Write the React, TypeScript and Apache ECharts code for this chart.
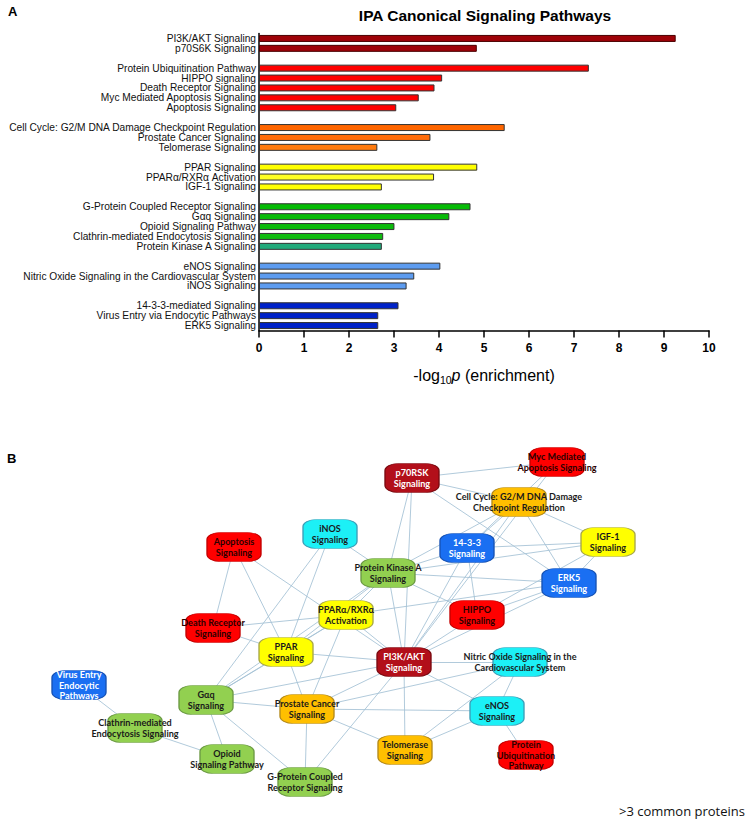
import React, { useEffect, useRef } from 'react';
import * as echarts from 'echarts';

// ---------- Panel A data ----------
const catDarkRed = ['PI3K/AKT Signaling', 'p70S6K Signaling'];
const valDarkRed = [9.26, 4.84];
const catRed = ['Protein Ubiquitination Pathway', 'HIPPO signaling', 'Death Receptor Signaling', 'Myc Mediated Apoptosis Signaling', 'Apoptosis Signaling'];
const valRed = [7.33, 4.07, 3.9, 3.55, 3.05];
const catOrange = ['Cell Cycle: G2/M DNA Damage Checkpoint Regulation', 'Prostate Cancer Signaling', 'Telomerase Signaling'];
const valOrange = [5.46, 3.81, 2.63];
const catYellow = ['PPAR Signaling', 'PPARα/RXRα Activation', 'IGF-1 Signaling'];
const valYellow = [4.85, 3.89, 2.73];
const catGreen = ['G-Protein Coupled Receptor Signaling', 'Gαq Signaling', 'Opioid Signaling Pathway', 'Clathrin-mediated Endocytosis Signaling', 'Protein Kinase A Signaling'];
const valGreen = [4.7, 4.23, 3.01, 2.76, 2.73];
const catLightBlue = ['eNOS Signaling', 'Nitric Oxide Signaling in the Cardiovascular System', 'iNOS Signaling'];
const valLightBlue = [4.03, 3.45, 3.28];
const catBlue = ['14-3-3-mediated Signaling', 'Virus Entry via Endocytic Pathways', 'ERK5 Signaling'];
const valBlue = [3.1, 2.65, 2.65];
const xTicks = [0, 1, 2, 3, 4, 5, 6, 7, 8, 9, 10];

// bar colours (style)
const colDarkRed = ['#9e0208', '#9e0208'];
const colRed = ['#ff0000', '#ff0000', '#ff0000', '#ff0000', '#ff0000'];
const colOrange = ['#ff6600', '#ff6c0a', '#ff7a0c'];
const colYellow = ['#ffff00', '#ffff22', '#ffff00'];
const colGreen = ['#06bb06', '#08bb08', '#0cbb0c', '#10bb10', '#22aa7a'];
const colLightBlue = ['#5d9cf0', '#5d9cf0', '#5d9cf0'];
const colBlue = ['#0022c8', '#0022c8', '#0022c8'];

// ---------- Panel B data ----------
const nodeKeys = ['MYC', 'P70', 'CELL', 'E1433', 'IGF', 'ERK5', 'HIPPO', 'PKA', 'INOS', 'APOP', 'PPARA', 'DEATH', 'PPAR', 'PI3K', 'GAQ', 'PROST', 'OPIO', 'GPCR', 'TELO', 'VIRUS', 'CLATH', 'NO', 'ENOS', 'UBIQ'];
const nodeLabels = [
  'Myc Mediated\nApoptosis Signaling', 'p70RSK\nSignaling', 'Cell Cycle: G2/M DNA Damage\nCheckpoint Regulation', '14-3-3\nSignaling',
  'IGF-1\nSignaling', 'ERK5\nSignaling', 'HIPPO\nSignaling', 'Protein Kinase A\nSignaling', 'iNOS\nSignaling', 'Apoptosis\nSignaling',
  'PPARα/RXRα\nActivation', 'Death Receptor\nSignaling', 'PPAR\nSignaling', 'PI3K/AKT\nSignaling', 'Gαq\nSignaling',
  'Prostate Cancer\nSignaling', 'Opioid\nSignaling Pathway', 'G-Protein Coupled\nReceptor Signaling', 'Telomerase\nSignaling',
  'Virus Entry\nEndocytic\nPathways', 'Clathrin-mediated\nEndocytosis Signaling', 'Nitric Oxide Signaling in the\nCardiovascular System',
  'eNOS\nSignaling', 'Protein\nUbiquitination\nPathway'
];
const nodeKinds = ['red', 'darkred', 'orange', 'blue', 'yellow', 'blue', 'red', 'green', 'cyan', 'red', 'yellow', 'red', 'yellow', 'darkred', 'green', 'orange', 'green', 'green', 'orange', 'blue', 'green', 'cyan', 'cyan', 'red'];
// layout coordinates of the network (page pixels)
const nodeLayout = [
  [557, 462], [412, 478], [519, 502], [467, 548], [608, 542], [569, 583], [477, 615], [388, 573], [330, 534], [234, 547],
  [346, 615], [213, 628], [286, 652], [404, 662], [206, 700], [307, 709], [227, 759], [305, 782], [405, 750], [79, 685],
  [135, 728], [520, 662], [497, 711], [526, 755]
];
const edges = [
  ['P70', 'MYC'], ['P70', 'CELL'], ['P70', 'ERK5'], ['P70', 'PKA'], ['P70', 'PI3K'], ['MYC', 'PI3K'], ['MYC', 'E1433'],
  ['CELL', 'IGF'], ['CELL', 'E1433'], ['CELL', 'PKA'], ['CELL', 'PI3K'], ['CELL', 'ERK5'],
  ['E1433', 'IGF'], ['E1433', 'PKA'], ['E1433', 'PI3K'], ['E1433', 'HIPPO'],
  ['IGF', 'PKA'], ['IGF', 'ERK5'], ['IGF', 'HIPPO'],
  ['ERK5', 'PKA'], ['ERK5', 'HIPPO'], ['ERK5', 'PI3K'], ['ERK5', 'PPARA'],
  ['HIPPO', 'PKA'], ['HIPPO', 'PI3K'],
  ['PKA', 'INOS'], ['PKA', 'PPARA'], ['PKA', 'PPAR'], ['PKA', 'PI3K'], ['PKA', 'GAQ'],
  ['INOS', 'PPAR'], ['INOS', 'GAQ'],
  ['APOP', 'DEATH'], ['APOP', 'PPAR'], ['APOP', 'PI3K'],
  ['DEATH', 'PPARA'], ['DEATH', 'PPAR'],
  ['PPARA', 'PI3K'], ['PPARA', 'PROST'], ['PPARA', 'PPAR'], ['PPARA', 'GAQ'],
  ['PPAR', 'PI3K'], ['PPAR', 'PROST'], ['PPAR', 'GAQ'],
  ['GAQ', 'PI3K'], ['GAQ', 'PROST'], ['GAQ', 'OPIO'], ['GAQ', 'GPCR'],
  ['PROST', 'PI3K'], ['PROST', 'NO'], ['PROST', 'TELO'], ['PROST', 'GPCR'], ['PROST', 'ENOS'],
  ['GPCR', 'PI3K'], ['TELO', 'PI3K'], ['TELO', 'ENOS'], ['TELO', 'NO'],
  ['PI3K', 'NO'], ['PI3K', 'ENOS'], ['NO', 'ENOS'], ['ENOS', 'UBIQ'],
  ['CLATH', 'VIRUS'], ['CLATH', 'OPIO']
];

const kindStyle: Record<string, { fill: string; border: string; text: string }> = {
  darkred: { fill: '#b20f1a', border: '#7a0a10', text: '#ffffff' },
  red: { fill: '#ff0000', border: '#c40000', text: '#2a0000' },
  orange: { fill: '#ffbf00', border: '#b48a1a', text: '#1a1a1a' },
  yellow: { fill: '#ffff00', border: '#a8a848', text: '#1a1a1a' },
  green: { fill: '#92d050', border: '#6c9a44', text: '#1a1a1a' },
  cyan: { fill: '#1cf0f6', border: '#3c9fb8', text: '#1a1a1a' },
  blue: { fill: '#1a6ff2', border: '#1652b4', text: '#ffffff' }
};

export default function App() {
  const ref = useRef<HTMLDivElement>(null);
  useEffect(() => {
    document.body.style.margin = '0';
    const chart = echarts.init(ref.current!, null, { renderer: 'svg' });

    const groups = [
      [catDarkRed, valDarkRed, colDarkRed],
      [catRed, valRed, colRed],
      [catOrange, valOrange, colOrange],
      [catYellow, valYellow, colYellow],
      [catGreen, valGreen, colGreen],
      [catLightBlue, valLightBlue, colLightBlue],
      [catBlue, valBlue, colBlue]
    ] as [string[], number[], string[]][];
    const categories: string[] = [];
    const barData: any[] = [];
    groups.forEach(([cats, vals, cols], gi) => {
      if (gi > 0) {
        categories.push('#gap' + gi);
        barData.push('-');
      }
      cats.forEach((c, i) => {
        categories.push(c);
        barData.push({
          value: vals[i],
          itemStyle: { color: cols[i], borderColor: gi === 0 ? '#4a0000' : '#333333', borderWidth: 1 }
        });
      });
    });

    const labelMap: Record<string, string> = {};
    nodeKeys.forEach((k, i) => (labelMap[k] = nodeLabels[i]));
    const nodes = nodeKeys.map((k, i) => {
      const st = kindStyle[nodeKinds[i]];
      const threeLines = nodeLabels[i].split('\n').length > 2;
      return {
        name: k,
        value: nodeLayout[i],
        itemStyle: { color: st.fill, borderColor: st.border, borderWidth: 1 },
        label: { color: st.text, lineHeight: threeLines ? 10.3 : 11.3 }
      };
    });

    const font = 'Liberation Sans, Arial, sans-serif';
    chart.setOption({
      animation: false,
      grid: [
        { left: 259, top: 33.5, width: 450, height: 297 },
        { left: 0, top: 0, width: 750, height: 821 }
      ],
      xAxis: [
        {
          gridIndex: 0, type: 'value', min: xTicks[0], max: xTicks[xTicks.length - 1], interval: 1,
          axisLine: { show: true, lineStyle: { color: '#000', width: 1.5 } },
          axisTick: { show: true, length: 7, lineStyle: { color: '#000', width: 1.5 } },
          axisLabel: { color: '#000', fontWeight: 'bold', fontSize: 12, fontFamily: font, margin: 11 },
          splitLine: { show: false },
          name: '-log{sub|10}{it|p} (enrichment)',
          nameLocation: 'middle', nameGap: 35,
          nameTextStyle: {
            fontFamily: font, fontSize: 16, color: '#000', lineHeight: 20,
            rich: {
              sub: { fontFamily: font, fontSize: 10.5, color: '#000', verticalAlign: 'bottom', lineHeight: 12 },
              it: { fontFamily: font, fontSize: 16, color: '#000', fontStyle: 'italic', lineHeight: 20 }
            }
          }
        },
        { gridIndex: 1, type: 'value', min: 0, max: 750, show: false }
      ],
      yAxis: [
        {
          gridIndex: 0, type: 'category', data: categories, inverse: true,
          axisLine: { show: true, lineStyle: { color: '#000', width: 1.5 } },
          axisTick: { show: false },
          axisLabel: {
            color: '#111', fontSize: 10.2, fontFamily: font, margin: 3, interval: 0,
            formatter: (v: string) => (v.startsWith('#gap') ? '' : v)
          },
          splitLine: { show: false }
        },
        { gridIndex: 1, type: 'value', min: 0, max: 821, inverse: true, show: false }
      ],
      series: [
        {
          type: 'bar', xAxisIndex: 0, yAxisIndex: 0, barWidth: 7, data: barData, silent: true
        },
        {
          type: 'graph', coordinateSystem: 'cartesian2d', xAxisIndex: 1, yAxisIndex: 1,
          layout: 'none', silent: true,
          symbol: 'roundRect', symbolSize: [54, 29],
          data: nodes,
          links: edges.map(([s, t]) => ({ source: s, target: t })),
          lineStyle: { color: '#a3c1d5', width: 0.85, opacity: 1, curveness: 0 },
          label: {
            show: true, position: 'inside', fontFamily: 'Lato, Open Sans, sans-serif', fontWeight: 'bold',
            fontSize: 9.1, lineHeight: 11.3,
            formatter: (p: any) => labelMap[p.name]
          },
          emphasis: { disabled: true }
        }
      ],
      graphic: [
        { type: 'text', left: 8, top: 5, style: { text: 'A', font: 'bold 13px Liberation Sans, Arial, sans-serif', fill: '#000' } },
        { type: 'text', x: 485, y: 15, style: { text: 'IPA Canonical Signaling Pathways', font: 'bold 15.5px Liberation Sans, Arial, sans-serif', fill: '#000', textAlign: 'center', textVerticalAlign: 'middle' } },
        { type: 'text', left: 7, top: 452, style: { text: 'B', font: 'bold 13px Liberation Sans, Arial, sans-serif', fill: '#000' } },
        { type: 'text', x: 745, y: 811, style: { text: '>3 common proteins', font: '13px Open Sans, sans-serif', fill: '#111', textAlign: 'right', textVerticalAlign: 'middle' } }
      ]
    });
    return () => chart.dispose();
  }, []);
  return <div ref={ref} style={{ width: 750, height: 821 }} />;
}
